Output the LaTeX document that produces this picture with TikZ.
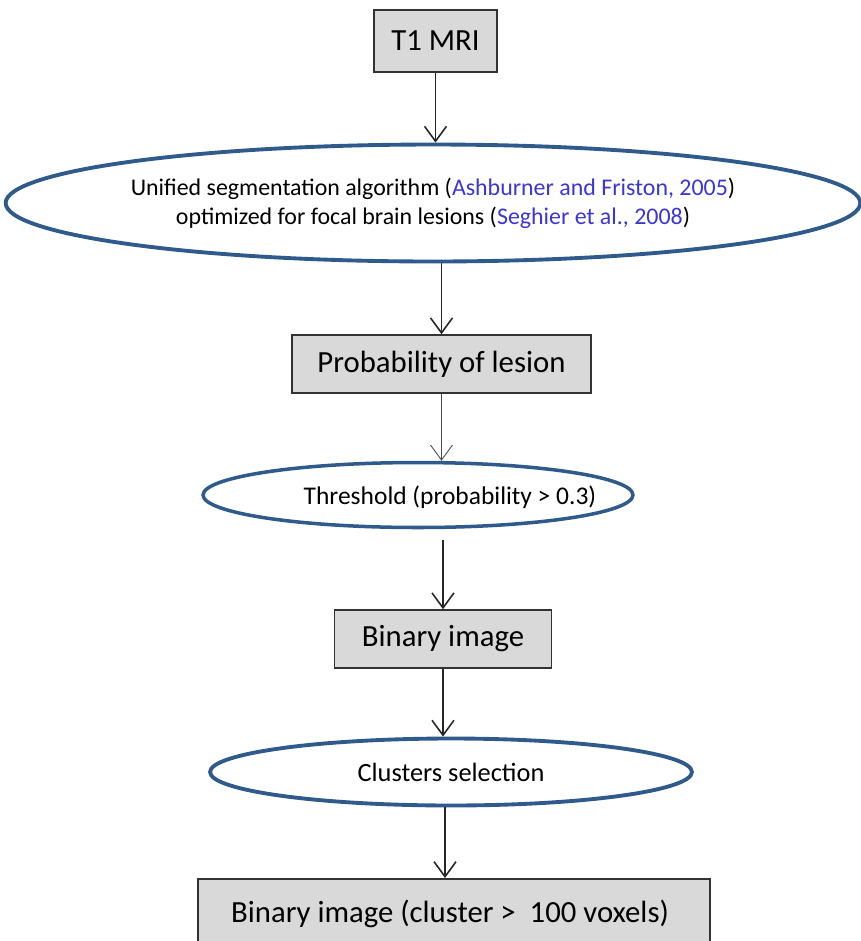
\documentclass[tikz,border=0pt]{standalone}
\usepackage{fontspec}
\setmainfont{Carlito}
\usepackage{tikz}
\usetikzlibrary{shapes.geometric,arrows.meta,calc}
\definecolor{ovalblue}{HTML}{2F5B8C}
\definecolor{citeblue}{HTML}{3B35D6}
\definecolor{boxgray}{HTML}{D9D9D9}
\newcommand{\citetext}[1]{\textcolor{citeblue}{#1}}

\begin{document}
\begin{tikzpicture}[x=0.02cm, y=-0.02cm,
	stepbox/.style={draw=black!80, fill=boxgray, line width=0.9pt, inner sep=0pt,
		font=\fontsize{17.5}{21}\selectfont},
	oval/.style={ellipse, draw=ovalblue, line width=2.2pt, inner sep=0pt,
		font=\fontsize{14.5}{18}\selectfont, align=center},
	arr/.style={draw=black!85, line width=0.9pt, -{Straight Barb[length=0.3cm,width=0.44cm]}}]
\useasboundingbox (0,0) rectangle (860,941);
% boxes
\node[stepbox, minimum width=2.46cm, minimum height=1.24cm] (t1) at (435.5,41) {T1 MRI};
\node[stepbox, minimum width=5.98cm, minimum height=1.16cm] (prob) at (441.5,364) {Probability of lesion};
\node[stepbox, minimum width=4.34cm, minimum height=1.16cm] (bin) at (443,639) {Binary image};
\node[stepbox, minimum width=10.24cm, minimum height=1.48cm, anchor=north] (fin) at (454,878) {};
\node[font=\fontsize{17.5}{21}\selectfont] (fintext) at (450,914) {Binary image (cluster >\ \ 100 voxels)};
% ellipses
\node[oval, font=\fontsize{13.6}{16.5}\selectfont, minimum width=17cm, minimum height=2.34cm] (seg) at (433,203)
	{Unified segmentation algorithm (\citetext{Ashburner and Friston, 2005})\\
	 optimized for focal brain lesions (\citetext{Seghier et al., 2008})};
\node[oval, line width=2pt, minimum width=8.6cm, minimum height=1.3cm] (thr) at (418,495) {};
\node[font=\fontsize{14.5}{18}\selectfont] (thrtext) at (450,497) {Threshold (probability > 0.3)};
\node[oval, font=\fontsize{15}{18}\selectfont, minimum width=9.64cm, minimum height=1.34cm] (clu) at (451,772) {Clusters selection};
% connectors
\draw[arr] (t1.south) -- (t1.south |- seg.north);
\draw[arr] (prob.north |- seg.south) -- (prob.north);
\draw[arr, line width=0.5pt, draw=black!70] (prob.south) -- (prob.south |- thr.north);
\draw[arr] ($(thr.south -| bin.north)+(0,11)$) -- (bin.north);
\draw[arr] (bin.south) -- (bin.south |- clu.north);
\draw[arr] ($(clu.south -| fin.north)+(-9,0)$) -- ($(fin.north)+(-9,0)$);
\end{tikzpicture}
\end{document}
